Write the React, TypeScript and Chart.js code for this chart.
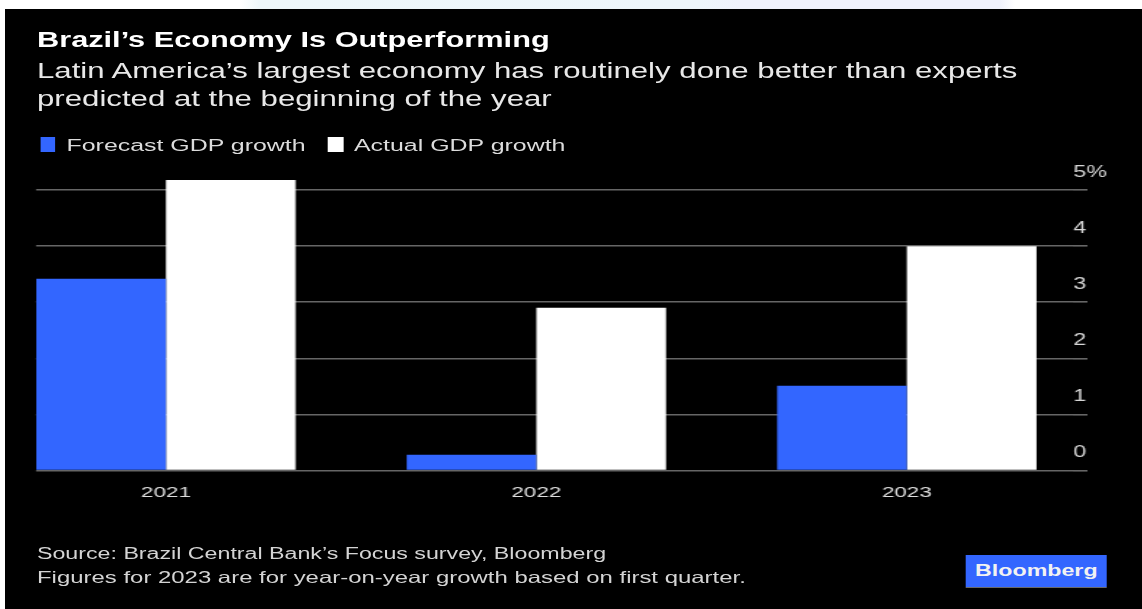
import React, { useEffect, useRef } from "react";
import { Chart, registerables } from "chart.js";

Chart.register(...registerables);

// ---- data ----
const years = ["2021", "2022", "2023"];
const forecastGrowth = [3.42, 0.28, 1.51];
const actualGrowth = [5.18, 2.9, 4.0];
const yTickLabels = ["0", "1", "2", "3", "4", "5%"];
const seriesNames = ["Forecast GDP growth", "Actual GDP growth"];
const seriesColors = ["#3366ff", "#ffffff"];
const titleText = "Brazil\u2019s Economy Is Outperforming";
const subtitleLines = [
  "Latin America\u2019s largest economy has routinely done better than experts",
  "predicted at the beginning of the year",
];
const footnoteLines = [
  "Source: Brazil Central Bank\u2019s Focus survey, Bloomberg",
  "Figures for 2023 are for year-on-year growth based on first quarter.",
];

// ---- layout (design coords are stretched horizontally by SX) ----
const SX = 1.45;
const W = 1142 / SX;
const FONT = '"Liberation Sans", Arial, Helvetica, sans-serif';
const CANVAS_TOP = 150;
const CANVAS_H = 370;
const PLOT_LEFT = 36 / SX;
const PLOT_RIGHT = 1072 / SX; // chart area right edge (labels start here)
const TICK_LEN = (1086 - 1072) / SX; // grid line continues into the axis

function BarChart() {
  const ref = useRef<HTMLCanvasElement | null>(null);
  useEffect(() => {
    if (!ref.current) return;
    const chart = new Chart(ref.current, {
      type: "bar",
      data: {
        datasets: [
          {
            label: seriesNames[0],
            data: forecastGrowth.map((v, i) => ({ x: i, y: v })),
            backgroundColor: seriesColors[0],
            borderWidth: 0,
          },
          {
            label: seriesNames[1],
            data: actualGrowth.map((v, i) => ({ x: i, y: v })),
            backgroundColor: seriesColors[1],
            borderWidth: 0,
          },
        ],
      },
      options: {
        animation: false,
        responsive: true,
        maintainAspectRatio: false,
        datasets: {
          bar: { categoryPercentage: 0.7, barPercentage: 1.0 },
        },
        layout: {
          padding: { left: PLOT_LEFT, top: 17.6, right: 0, bottom: 0 },
        },
        plugins: {
          legend: { display: false },
          title: { display: false },
          tooltip: { enabled: false },
        },
        scales: {
          x: {
            type: "linear",
            offset: false,
            min: -0.3505,
            max: 2.4495,
            grid: { display: false, offset: false },
            border: { display: false },
            ticks: {
              stepSize: 1,
              includeBounds: false,
              autoSkip: false,
              maxRotation: 0,
              minRotation: 0,
              padding: 5,
              color: "#dedede",
              font: { family: FONT, size: 15.5 },
              callback: (v: any) => years[v as number] ?? "",
            },
            afterFit: (s: any) => {
              s.height = 49.5;
            },
          },
          y: {
            position: "right",
            min: 0,
            max: 5.4,
            grid: {
              color: "#666666",
              lineWidth: 1.6,
              drawTicks: true,
              tickLength: TICK_LEN,
            },
            border: { display: false },
            ticks: {
              stepSize: 1,
              includeBounds: false,
              padding: -TICK_LEN,
              labelOffset: -17.5,
              color: "#d6d6d6",
              font: { family: FONT, size: 16 },
              callback: (v: any) => yTickLabels[v as number] ?? "",
            },
            afterFit: (s: any) => {
              s.width = W - PLOT_RIGHT;
            },
          },
        },
      },
    });
    return () => chart.destroy();
  }, []);
  return (
    <div
      style={{
        position: "absolute",
        left: 0,
        top: CANVAS_TOP,
        width: W,
        height: CANVAS_H,
      }}
    >
      <canvas ref={ref} />
    </div>
  );
}

function textLine(
  text: string,
  left: number,
  baseline: number,
  size: number,
  color: string,
  weight: number = 400
) {
  return (
    <div
      key={text}
      style={{
        position: "absolute",
        left,
        top: baseline - 0.8465 * size,
        fontFamily: FONT,
        fontSize: size,
        lineHeight: `${size}px`,
        fontWeight: weight,
        color,
        whiteSpace: "nowrap",
      }}
    >
      {text}
    </div>
  );
}

export default function App() {
  useEffect(() => {
    document.body.style.margin = "0";
  }, []);
  return (
    <div
      style={{
        position: "absolute",
        left: 0,
        top: 0,
        width: 1142,
        height: 609,
        overflow: "hidden",
        background: "#ffffff",
      }}
    >
      {/* light strip at top */}
      <div
        style={{
          position: "absolute",
          left: 0,
          top: 0,
          width: 1142,
          height: 9,
          background:
            "linear-gradient(90deg, #ffffff 0px, #ffffff 240px, #eef7fa 260px, #eef6fb 700px, #f0f2fc 740px, #f0f2fc 1000px, #ffffff 1015px)",
        }}
      />
      {/* black panel */}
      <div
        style={{
          position: "absolute",
          left: 5,
          top: 9,
          width: 1137,
          height: 600,
          background: "#000000",
        }}
      />
      <div
        style={{
          position: "absolute",
          left: 0,
          top: 0,
          width: W,
          height: 609,
          transform: `scaleX(${SX})`,
          transformOrigin: "0 0",
        }}
      >
        {textLine(titleText, 37 / SX, 47.3, 21.2, "#ffffff", 700)}
        {textLine(subtitleLines[0], 37 / SX, 79.3, 21.5, "#e8e8e8")}
        {textLine(subtitleLines[1], 37 / SX, 107.3, 21.5, "#e8e8e8")}

        {/* legend */}
        <div
          style={{
            position: "absolute",
            left: 40.7 / SX,
            top: 136.7,
            width: 15 / SX,
            height: 15,
            background: seriesColors[0],
          }}
        />
        {textLine(seriesNames[0], 66.5 / SX, 151.5, 17.2, "#dcdcdc")}
        <div
          style={{
            position: "absolute",
            left: 328 / SX,
            top: 136.7,
            width: 15 / SX,
            height: 15,
            background: seriesColors[1],
          }}
        />
        {textLine(seriesNames[1], 354 / SX, 151.5, 17.2, "#dcdcdc")}

        <BarChart />

        {textLine(footnoteLines[0], 37 / SX, 560, 16, "#d4d4d4")}
        {textLine(footnoteLines[1], 37 / SX, 582.7, 16.5, "#d4d4d4")}

        {/* Bloomberg badge */}
        <div
          style={{
            position: "absolute",
            left: 965.7 / SX,
            top: 554.7,
            width: (1107 - 965.7) / SX,
            height: 32,
            background: "#3366ff",
            color: "#f2f2f2",
            fontFamily: FONT,
            fontWeight: 700,
            fontSize: 16,
            lineHeight: "32px",
            textAlign: "center",
          }}
        >
          Bloomberg
        </div>
      </div>
    </div>
  );
}
